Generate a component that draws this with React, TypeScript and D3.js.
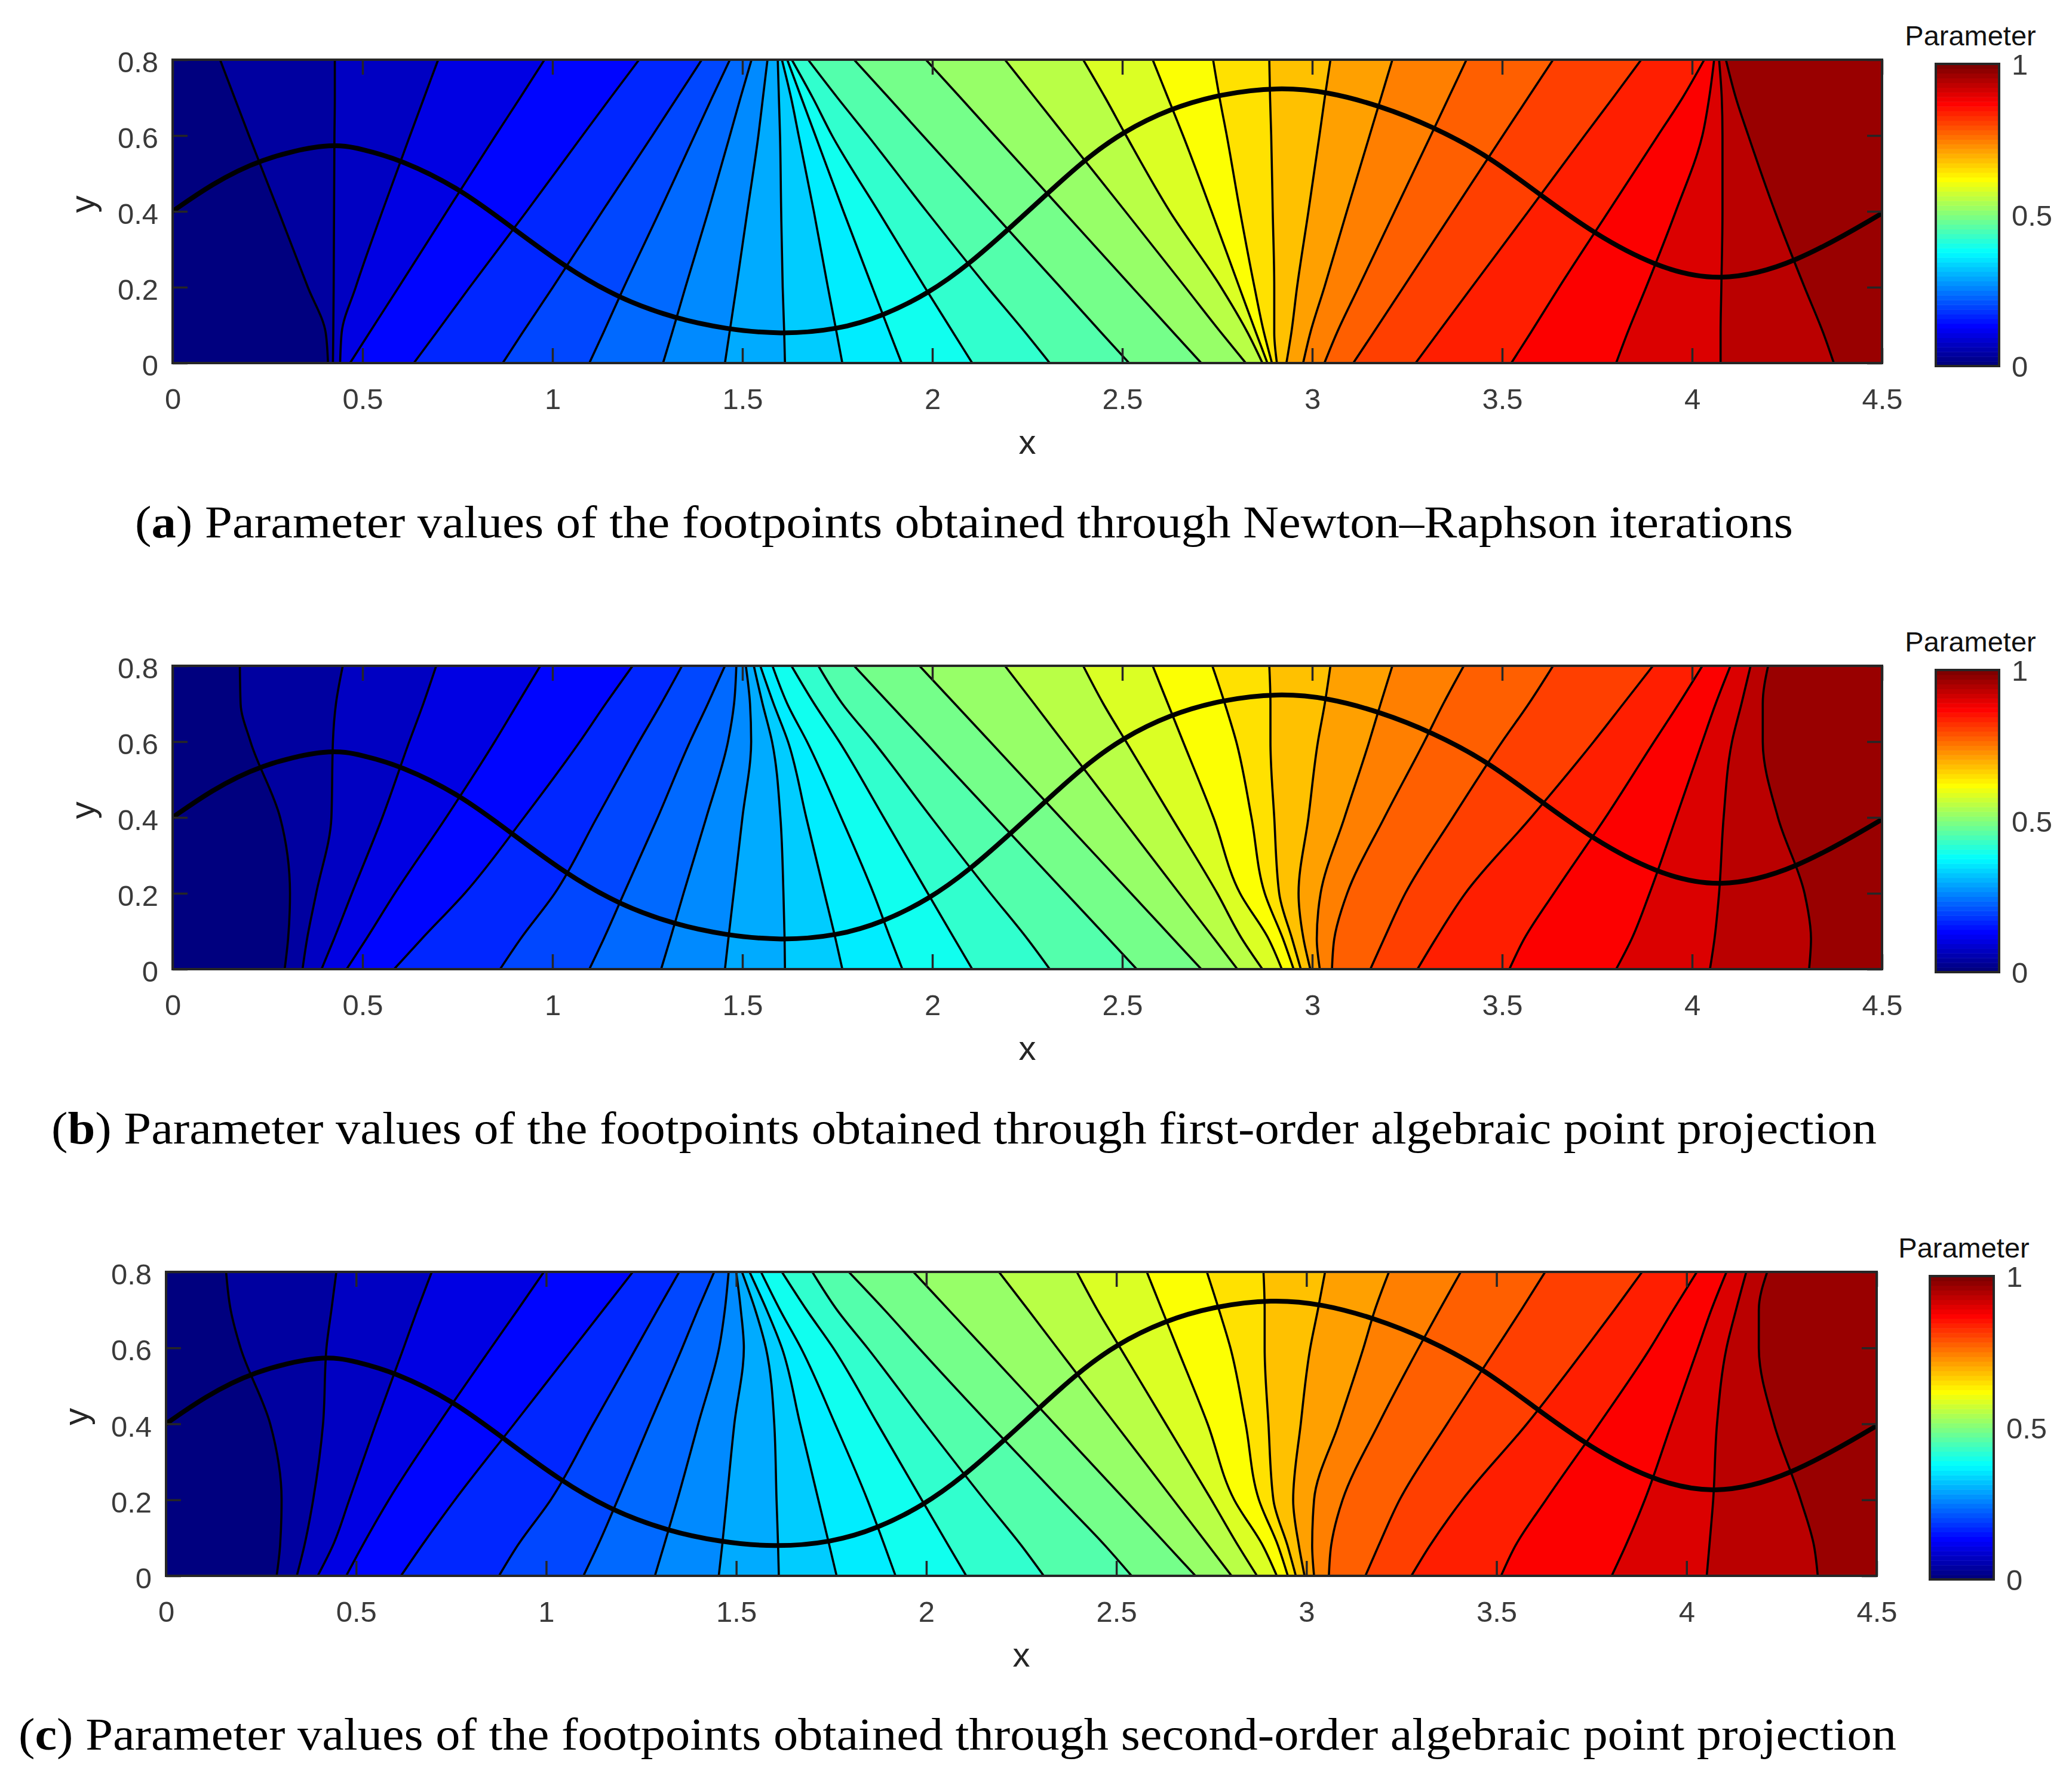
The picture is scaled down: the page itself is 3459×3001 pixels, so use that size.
import React, { useRef, useEffect } from 'react';
import * as d3 from 'd3';

const yRows = [0.8, 0.7, 0.6, 0.4, 0.2, 0.08, 0];

const contoursA = [
  [0.125, 0.163, 0.201, 0.279, 0.356, 0.403, 0.409],
  [0.427, 0.427, 0.426, 0.425, 0.424, 0.423, 0.422],
  [0.699, 0.662, 0.625, 0.552, 0.482, 0.445, 0.441],
  [0.979, 0.915, 0.85, 0.722, 0.595, 0.518, 0.467],
  [1.228, 1.153, 1.079, 0.932, 0.782, 0.694, 0.635],
  [1.393, 1.328, 1.263, 1.131, 1.001, 0.921, 0.869],
  [1.467, 1.42, 1.374, 1.282, 1.188, 1.134, 1.097],
  [1.524, 1.495, 1.467, 1.41, 1.35, 1.315, 1.291],
  [1.566, 1.554, 1.542, 1.513, 1.484, 1.466, 1.454],
  [1.593, 1.596, 1.599, 1.602, 1.606, 1.61, 1.612],
  [1.604, 1.628, 1.648, 1.688, 1.725, 1.748, 1.763],
  [1.618, 1.655, 1.692, 1.766, 1.842, 1.888, 1.919],
  [1.63, 1.685, 1.736, 1.858, 1.98, 2.055, 2.105],
  [1.673, 1.75, 1.83, 1.985, 2.145, 2.245, 2.309],
  [1.794, 1.885, 1.975, 2.156, 2.337, 2.445, 2.518],
  [1.983, 2.074, 2.164, 2.345, 2.526, 2.635, 2.708],
  [2.191, 2.27, 2.349, 2.508, 2.666, 2.76, 2.825],
  [2.397, 2.455, 2.51, 2.625, 2.76, 2.83, 2.869],
  [2.58, 2.62, 2.66, 2.735, 2.808, 2.852, 2.882],
  [2.739, 2.756, 2.775, 2.81, 2.848, 2.873, 2.894],
  [2.887, 2.889, 2.892, 2.896, 2.9, 2.9, 2.907],
  [3.048, 3.033, 3.019, 2.99, 2.96, 2.945, 2.932],
  [3.211, 3.181, 3.151, 3.091, 3.032, 2.995, 2.976],
  [3.406, 3.359, 3.312, 3.217, 3.122, 3.065, 3.032],
  [3.634, 3.568, 3.502, 3.371, 3.24, 3.161, 3.108],
  [3.866, 3.792, 3.717, 3.569, 3.42, 3.331, 3.272],
  [4.032, 3.975, 3.91, 3.78, 3.65, 3.575, 3.524],
  [4.058, 4.045, 4.027, 3.957, 3.879, 3.83, 3.8],
  [4.071, 4.078, 4.08, 4.08, 4.077, 4.075, 4.075],
  [4.089, 4.115, 4.148, 4.218, 4.296, 4.345, 4.373],
];

const contoursB = [
  [0.177, 0.179, 0.205, 0.283, 0.309, 0.304, 0.295],
  [0.448, 0.43, 0.422, 0.418, 0.378, 0.354, 0.342],
  [0.694, 0.66, 0.623, 0.552, 0.472, 0.425, 0.392],
  [0.968, 0.908, 0.848, 0.72, 0.585, 0.51, 0.458],
  [1.211, 1.14, 1.072, 0.925, 0.769, 0.656, 0.583],
  [1.341, 1.286, 1.228, 1.117, 1.006, 0.916, 0.862],
  [1.454, 1.409, 1.362, 1.277, 1.188, 1.135, 1.097],
  [1.484, 1.478, 1.462, 1.405, 1.345, 1.31, 1.286],
  [1.509, 1.52, 1.523, 1.5, 1.477, 1.463, 1.454],
  [1.53, 1.553, 1.578, 1.6, 1.608, 1.611, 1.612],
  [1.547, 1.582, 1.62, 1.668, 1.716, 1.745, 1.763],
  [1.579, 1.618, 1.67, 1.76, 1.845, 1.89, 1.921],
  [1.629, 1.689, 1.755, 1.872, 1.988, 2.058, 2.105],
  [1.7, 1.763, 1.845, 1.997, 2.153, 2.25, 2.309],
  [1.794, 1.887, 1.98, 2.166, 2.352, 2.464, 2.538],
  [1.966, 2.059, 2.152, 2.337, 2.523, 2.634, 2.708],
  [2.191, 2.268, 2.344, 2.497, 2.65, 2.742, 2.803],
  [2.397, 2.45, 2.51, 2.63, 2.75, 2.815, 2.869],
  [2.58, 2.62, 2.66, 2.74, 2.81, 2.885, 2.92],
  [2.737, 2.77, 2.8, 2.84, 2.875, 2.923, 2.951],
  [2.887, 2.89, 2.89, 2.9, 2.913, 2.947, 2.97],
  [3.048, 3.033, 3.015, 2.99, 2.964, 2.977, 2.995],
  [3.211, 3.18, 3.15, 3.085, 3.022, 3.012, 3.02],
  [3.399, 3.345, 3.295, 3.19, 3.092, 3.058, 3.052],
  [3.634, 3.57, 3.5, 3.37, 3.245, 3.189, 3.153],
  [3.897, 3.819, 3.741, 3.576, 3.403, 3.325, 3.277],
  [4.027, 3.965, 3.9, 3.772, 3.636, 3.558, 3.519],
  [4.101, 4.062, 4.027, 3.958, 3.888, 3.841, 3.8],
  [4.154, 4.13, 4.105, 4.083, 4.071, 4.059, 4.047],
  [4.2, 4.186, 4.186, 4.226, 4.296, 4.313, 4.308],
];

const contoursC = [
  [0.158, 0.17, 0.196, 0.274, 0.304, 0.3, 0.291],
  [0.448, 0.435, 0.422, 0.413, 0.387, 0.364, 0.344],
  [0.699, 0.661, 0.625, 0.552, 0.482, 0.439, 0.399],
  [0.994, 0.925, 0.855, 0.717, 0.586, 0.517, 0.474],
  [1.228, 1.15, 1.072, 0.916, 0.76, 0.673, 0.618],
  [1.35, 1.293, 1.237, 1.124, 1.012, 0.925, 0.876],
  [1.442, 1.399, 1.358, 1.272, 1.188, 1.136, 1.098],
  [1.48, 1.47, 1.455, 1.4, 1.345, 1.31, 1.286],
  [1.5, 1.512, 1.52, 1.495, 1.475, 1.463, 1.454],
  [1.515, 1.55, 1.578, 1.6, 1.606, 1.61, 1.612],
  [1.535, 1.58, 1.62, 1.668, 1.716, 1.745, 1.764],
  [1.565, 1.615, 1.67, 1.76, 1.845, 1.89, 1.919],
  [1.62, 1.685, 1.755, 1.872, 1.988, 2.058, 2.105],
  [1.7, 1.765, 1.845, 1.997, 2.153, 2.25, 2.309],
  [1.796, 1.89, 1.98, 2.165, 2.355, 2.47, 2.54],
  [1.966, 2.059, 2.152, 2.337, 2.523, 2.634, 2.708],
  [2.191, 2.268, 2.344, 2.497, 2.65, 2.742, 2.803],
  [2.396, 2.45, 2.51, 2.63, 2.75, 2.82, 2.87],
  [2.58, 2.62, 2.66, 2.74, 2.81, 2.885, 2.922],
  [2.738, 2.77, 2.8, 2.84, 2.875, 2.925, 2.951],
  [2.887, 2.89, 2.89, 2.9, 2.913, 2.95, 2.972],
  [3.049, 3.03, 3.01, 2.985, 2.965, 2.98, 2.995],
  [3.217, 3.18, 3.15, 3.085, 3.02, 3.015, 3.02],
  [3.406, 3.35, 3.295, 3.19, 3.095, 3.065, 3.059],
  [3.628, 3.565, 3.5, 3.37, 3.245, 3.19, 3.155],
  [3.883, 3.81, 3.735, 3.58, 3.41, 3.325, 3.276],
  [4.027, 3.965, 3.905, 3.77, 3.63, 3.55, 3.512],
  [4.105, 4.065, 4.03, 3.96, 3.89, 3.84, 3.803],
  [4.157, 4.13, 4.105, 4.08, 4.07, 4.06, 4.053],
  [4.212, 4.19, 4.19, 4.23, 4.3, 4.335, 4.345],
];

// the black spline, same in all three panels
const splineX = [0, 0.1, 0.227, 0.413, 0.5, 0.599, 0.756, 0.895, 1.037, 1.176, 1.324, 1.454, 1.6, 1.752, 1.87, 1.99, 2.096, 2.209, 2.266, 2.396, 2.5, 2.625, 2.76, 2.91, 3.04, 3.177, 3.315, 3.463, 3.602, 3.741, 3.9, 4.07, 4.27, 4.5];
const splineY = [0.4, 0.47, 0.538, 0.582, 0.564, 0.537, 0.461, 0.356, 0.251, 0.17, 0.117, 0.09, 0.075, 0.088, 0.124, 0.184, 0.26, 0.361, 0.413, 0.533, 0.609, 0.671, 0.71, 0.728, 0.716, 0.679, 0.625, 0.547, 0.442, 0.342, 0.255, 0.211, 0.26, 0.395];

const xTicks = [0, 0.5, 1, 1.5, 2, 2.5, 3, 3.5, 4, 4.5];
const yTicks = [0, 0.2, 0.4, 0.6, 0.8];
const barTicks = [0, 0.5, 1];

const jet = d3.scaleLinear<string>()
  .domain([0, 0.125, 0.375, 0.62, 0.875, 1])
  .range(['#00007f', '#0000ff', '#00ffff', '#ffff00', '#ff0000', '#7f0000'])
  .clamp(true);

const panels = [
  { id: 'a', contours: contoursA, left: 289, right: 3151, top: 100, bottom: 608, barLeft: 3241, barRight: 3347, barTop: 107, barBottom: 613, titleX: 3299, titleY: 76, capLeft: 226, capRight: 3002, capY: 900, before: ' Parameter values of the footpoints obtained through Newton–Raphson iterations' },
  { id: 'b', contours: contoursB, left: 289, right: 3151, top: 1115, bottom: 1623, barLeft: 3241, barRight: 3347, barTop: 1122, barBottom: 1628, titleX: 3299, titleY: 1091, capLeft: 86, capRight: 3142, capY: 1915, before: ' Parameter values of the footpoints obtained through first-order algebraic point projection' },
  { id: 'c', contours: contoursC, left: 278, right: 3142, top: 2130, bottom: 2639, barLeft: 3231, barRight: 3338, barTop: 2137, barBottom: 2645, titleX: 3288, titleY: 2106, capLeft: 31, capRight: 3175, capY: 2930, before: ' Parameter values of the footpoints obtained through second-order algebraic point projection' },
];

const LABEL_FONT = '"Liberation Sans", Arial, sans-serif';
const INK = '#262626';

type PanelSpec = typeof panels[number];

const Panel: React.FC<{ p: PanelSpec }> = ({ p }) => {
  const gRef = useRef<SVGGElement | null>(null);

  useEffect(() => {
    if (!gRef.current) return;
    const g = d3.select(gRef.current);
    g.selectAll('*').remove(); // Clear existing elements

    const x = d3.scaleLinear().domain([0, 4.5]).range([p.left, p.right]);
    const y = d3.scaleLinear().domain([0, 0.8]).range([p.bottom, p.top]);
    const clipId = `plot-${p.id}`;

    g.append('clipPath').attr('id', clipId)
      .append('rect')
      .attr('x', p.left).attr('y', p.top)
      .attr('width', p.right - p.left).attr('height', p.bottom - p.top);

    const plot = g.append('g').attr('clip-path', `url(#${clipId})`);
    const curve = d3.curveMonotoneY;

    // filled bands between neighbouring contours, 31 levels of jet
    const n = p.contours.length;
    d3.range(n + 1).forEach(i => {
      const band = d3.area<number>()
        .y(d => y(d))
        .x0((_, k) => x(i === 0 ? 0 : p.contours[i - 1][k]))
        .x1((_, k) => x(i === n ? 4.5 : p.contours[i][k]))
        .curve(curve);
      plot.append('path')
        .attr('d', band(yRows))
        .attr('fill', jet(i * 0.0325))
        .attr('stroke', jet(i * 0.0325))
        .attr('stroke-width', 1);
    });

    const contourLine = d3.line<number>()
      .x(d => x(d))
      .y((_, k) => y(yRows[k]))
      .curve(curve);

    plot.selectAll('path.contour')
      .data(p.contours)
      .enter()
      .append('path')
      .attr('class', 'contour')
      .attr('d', d => contourLine(d))
      .attr('fill', 'none')
      .attr('stroke', '#000')
      .attr('stroke-width', 3.6);

    const spline = d3.line<number>()
      .x(d => x(d))
      .y((_, k) => y(splineY[k]))
      .curve(d3.curveBasis);

    plot.append('path')
      .attr('d', spline(splineX))
      .attr('fill', 'none')
      .attr('stroke', '#000')
      .attr('stroke-width', 8);

    // axes, MATLAB style: inward ticks on all four sides
    const fmt = (d: d3.NumberValue) => String(d);
    const bottom = g.append('g').attr('transform', `translate(0, ${p.bottom})`)
      .call(d3.axisBottom(x).tickValues(xTicks).tickFormat(fmt).tickSizeInner(-25).tickSizeOuter(0).tickPadding(0));
    bottom.selectAll('text').attr('y', 77).attr('dy', 0);
    g.append('g').attr('transform', `translate(0, ${p.top})`)
      .call(d3.axisTop(x).tickValues(xTicks).tickFormat(() => '').tickSizeInner(-25).tickSizeOuter(0));
    const leftAxis = g.append('g').attr('transform', `translate(${p.left}, 0)`)
      .call(d3.axisLeft(y).tickValues(yTicks).tickFormat(fmt).tickSizeInner(-25).tickSizeOuter(0).tickPadding(24));
    leftAxis.selectAll('text').attr('dy', '0.42em');
    g.append('g').attr('transform', `translate(${p.right}, 0)`)
      .call(d3.axisRight(y).tickValues(yTicks).tickFormat(() => '').tickSizeInner(-25).tickSizeOuter(0));

    g.append('rect')
      .attr('x', p.left).attr('y', p.top)
      .attr('width', p.right - p.left).attr('height', p.bottom - p.top)
      .attr('fill', 'none').attr('stroke', INK).attr('stroke-width', 4);

    g.append('text')
      .attr('x', (p.left + p.right) / 2).attr('y', p.bottom + 152)
      .attr('text-anchor', 'middle').attr('font-size', 58).attr('fill', INK)
      .attr('font-family', LABEL_FONT).text('x');
    g.append('text')
      .attr('transform', `translate(${p.left - 131}, ${(p.top + p.bottom) / 2 - 12}) rotate(-90)`)
      .attr('text-anchor', 'middle').attr('font-size', 58).attr('fill', INK)
      .attr('font-family', LABEL_FONT).text('y');

    // colorbar
    const levels = d3.range(64);
    const barBand = d3.scaleBand<number>().domain(levels).range([p.barBottom, p.barTop]);
    g.append('g').selectAll('rect')
      .data(levels)
      .enter()
      .append('rect')
      .attr('x', p.barLeft)
      .attr('y', d => barBand(d) as number)
      .attr('width', p.barRight - p.barLeft)
      .attr('height', barBand.bandwidth() + 0.5)
      .attr('fill', d => jet(d / 63));
    g.append('rect')
      .attr('x', p.barLeft).attr('y', p.barTop)
      .attr('width', p.barRight - p.barLeft).attr('height', p.barBottom - p.barTop)
      .attr('fill', 'none').attr('stroke', INK).attr('stroke-width', 4);

    const barScale = d3.scaleLinear().domain([0, 1]).range([p.barBottom, p.barTop]);
    const barAxis = g.append('g').attr('transform', `translate(${p.barRight}, 0)`)
      .call(d3.axisRight(barScale).tickValues(barTicks).tickFormat(fmt).tickSize(0).tickPadding(21));
    barAxis.selectAll('text').attr('dy', '0.36em');
    barAxis.select('.domain').remove();

    g.append('text')
      .attr('x', p.titleX).attr('y', p.titleY)
      .attr('text-anchor', 'middle').attr('font-size', 47).attr('fill', '#111')
      .attr('font-family', LABEL_FONT).text('Parameter');

    g.selectAll('.domain').remove();
    g.selectAll('.tick line').attr('stroke', INK).attr('stroke-width', 3.5);
    g.selectAll('.tick text')
      .attr('fill', '#3a3a3a')
      .attr('font-size', 49)
      .attr('font-family', LABEL_FONT);
  }, [p]);

  return (
    <g>
      <g ref={gRef} />
      <text
        x={p.capLeft}
        y={p.capY}
        fontFamily='"Liberation Serif", "DejaVu Serif", serif'
        fontSize={76}
        fill="#000"
        textLength={p.capRight - p.capLeft}
        lengthAdjust="spacingAndGlyphs"
      >
        (<tspan fontWeight="bold">{p.id}</tspan>){p.before}
      </text>
    </g>
  );
};

export default function App() {
  return (
    <svg
      width={3459}
      height={3001}
      viewBox="0 0 3459 3001"
      style={{ position: 'absolute', left: 0, top: 0, background: '#fff' }}
    >
      {panels.map(p => <Panel key={p.id} p={p} />)}
    </svg>
  );
}
